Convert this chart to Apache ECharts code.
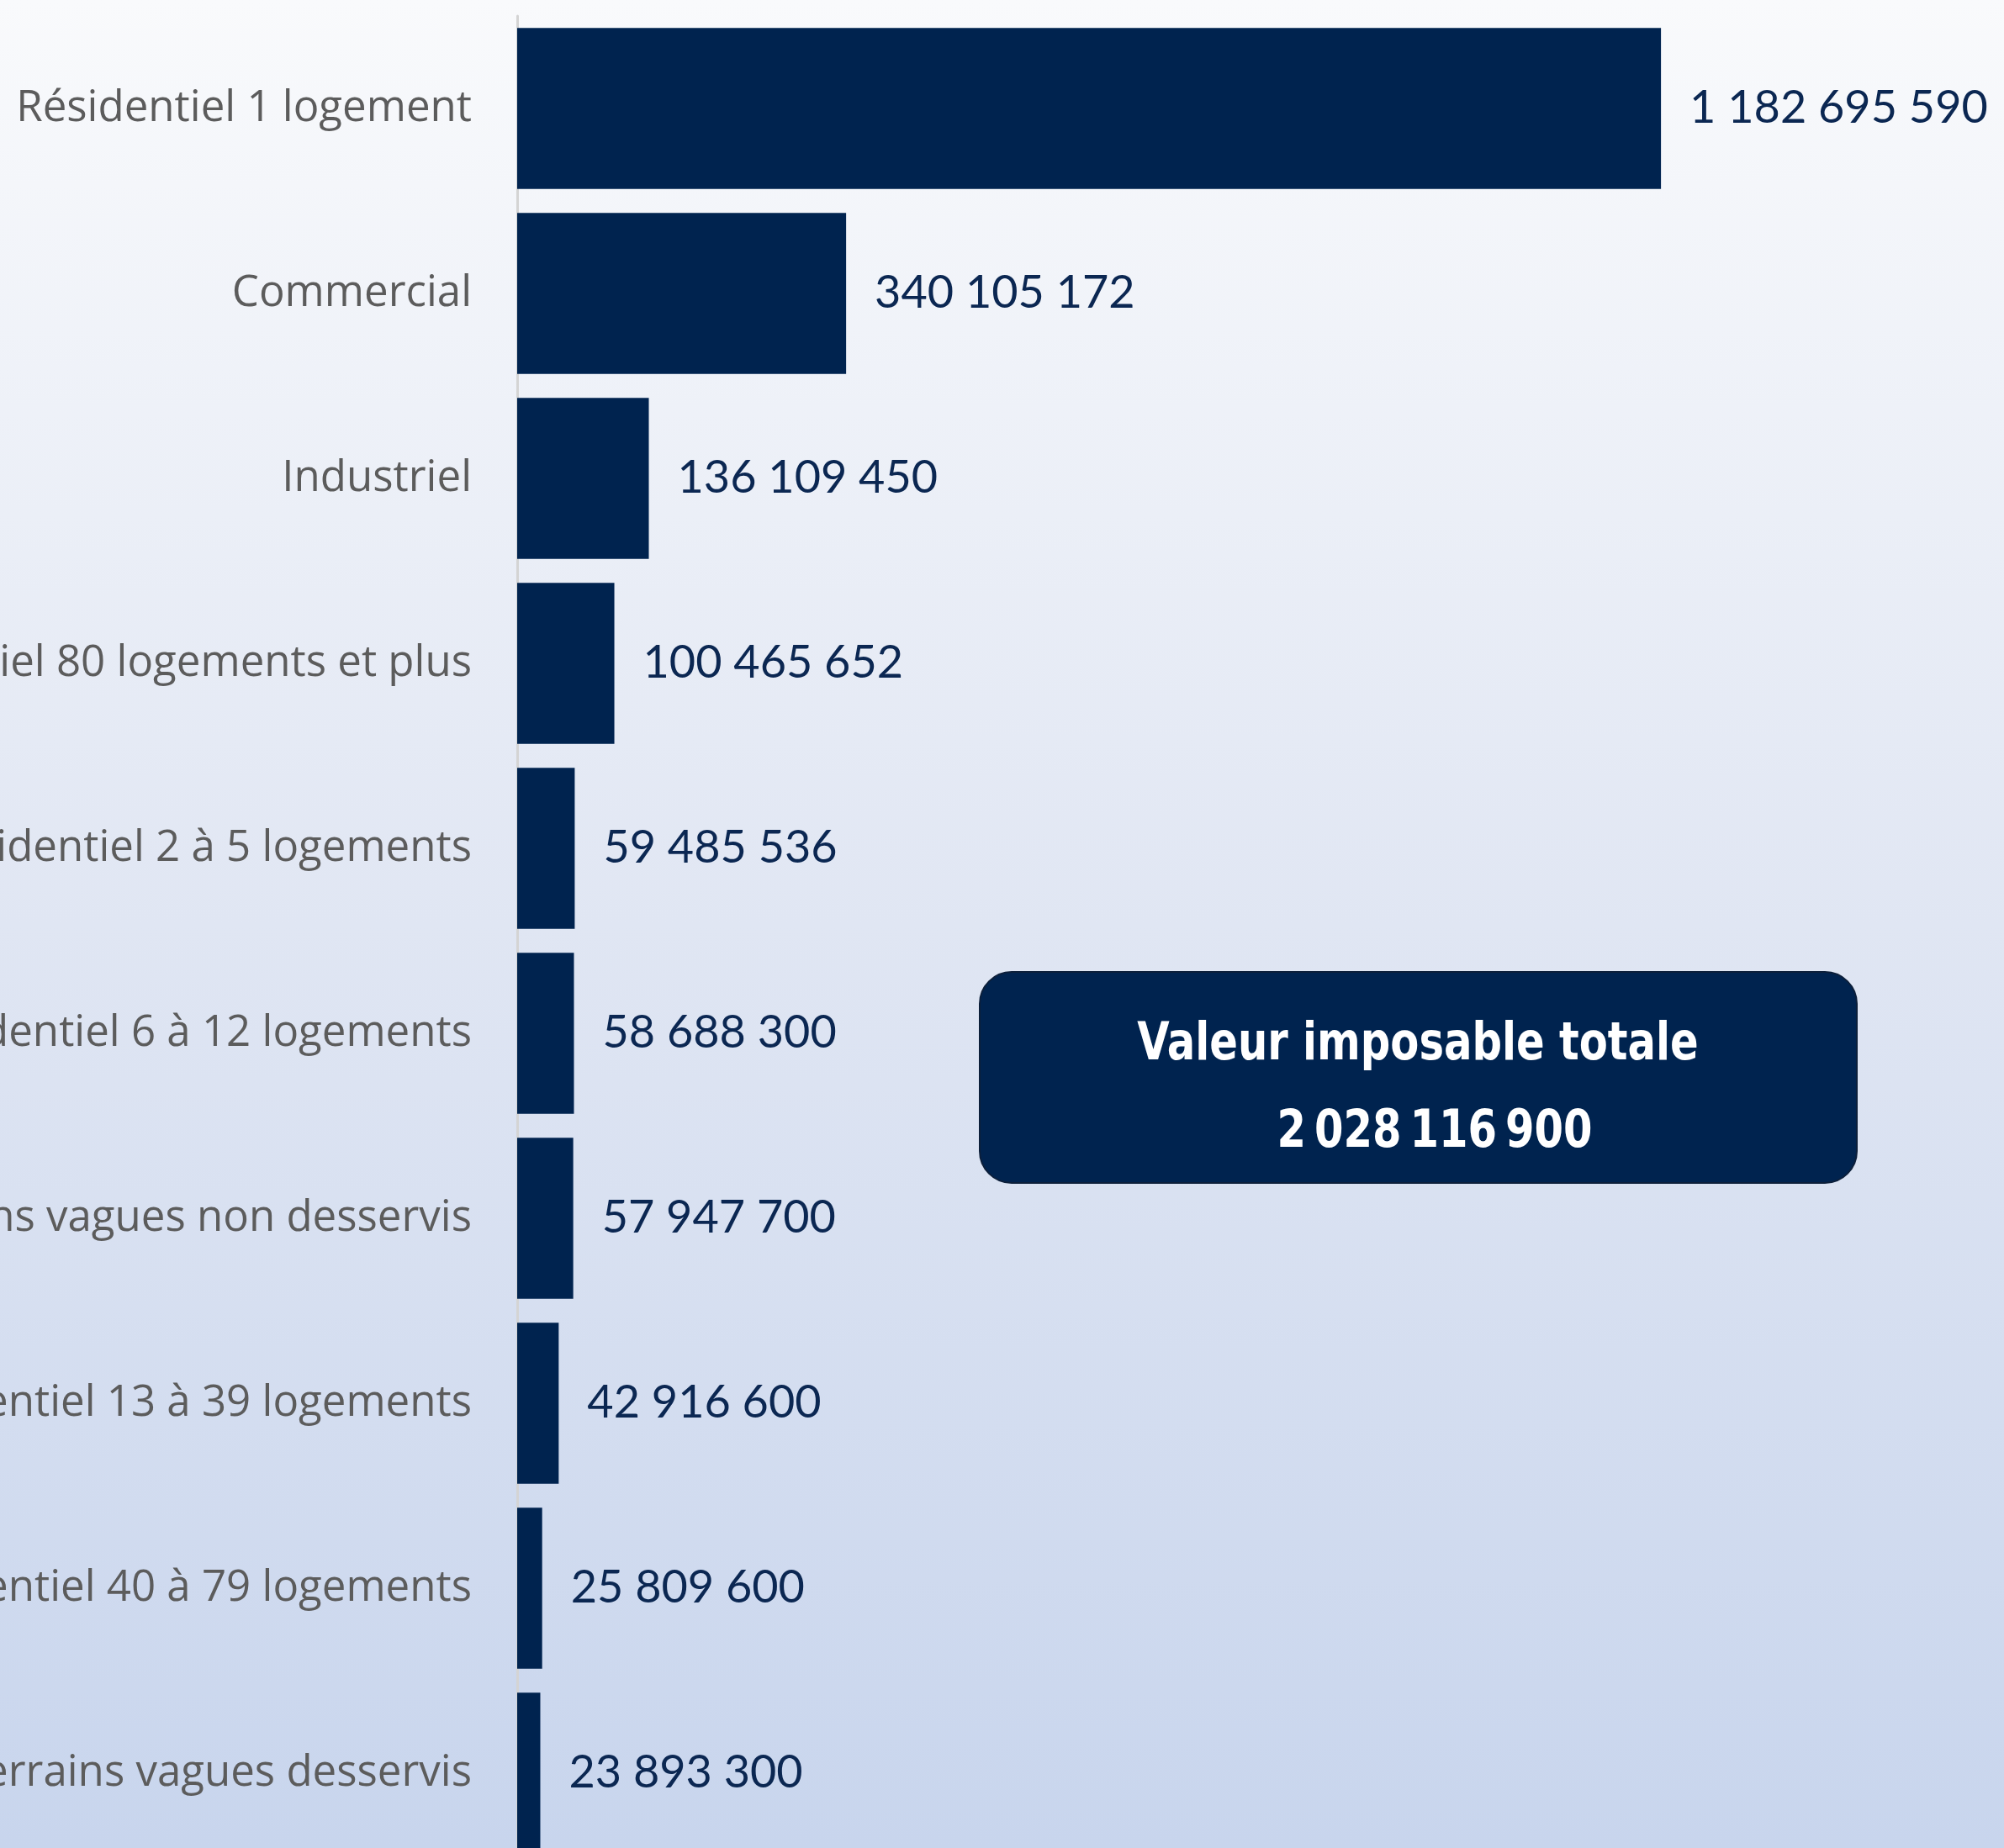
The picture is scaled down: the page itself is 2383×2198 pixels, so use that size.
<!DOCTYPE html>
<html>
<head>
<meta charset="utf-8">
<script src="https://cdn.jsdelivr.net/npm/echarts@6/dist/echarts.min.js"></script>
<style>
  html, body { margin: 0; padding: 0; }
  #chart { width: 2383px; height: 2198px; }
</style>
</head>
<body>
<div id="chart"></div>
<script>
const categories = [
  'Résidentiel 1 logement',
  'Commercial',
  'Industriel',
  'Résidentiel 80 logements et plus',
  'Résidentiel 2 à 5 logements',
  'Résidentiel 6 à 12 logements',
  'Terrains vagues non desservis',
  'Résidentiel 13 à 39 logements',
  'Résidentiel 40 à 79 logements',
  'Terrains vagues desservis'
];
const values = [
  1182695590, 340105172, 136109450, 100465652, 59485536,
  58688300, 57947700, 42916600, 25809600, 23893300
];
const totalTitle = 'Valeur imposable totale';

const fmt = (v, sep = ' ') => String(v).replace(/\B(?=(\d{3})+(?!\d))/g, sep);
const total = values.reduce((a, b) => a + b, 0);

const navy = '#00234f';
const boxFont = 'bold 62px "Liberation Sans Narrow", "DejaVu Sans Condensed", sans-serif';
const chart = echarts.init(document.getElementById('chart'));

const option = {
  backgroundColor: new echarts.graphic.LinearGradient(0, 0, 0, 1, [
    { offset: 0, color: '#f9fafc' },
    { offset: 0.5, color: '#e0e6f3' },
    { offset: 1, color: '#c8d5ed' }
  ]),
  animation: false,
  grid: {
    left: 615,
    top: 19,
    width: 1725,
    height: 2200,
    containLabel: false,
    outerBoundsMode: 'none'
  },
  xAxis: {
    type: 'value',
    min: 0,
    max: 1500000000,
    show: false
  },
  yAxis: {
    type: 'category',
    data: categories,
    inverse: true,
    axisLine: { show: true, lineStyle: { color: '#d4d4d4', width: 3 } },
    axisTick: { show: false },
    axisLabel: {
      color: '#5c5c5c',
      fontSize: 51,
      fontFamily: 'Open Sans',
      margin: 54
    }
  },
  series: [
    {
      type: 'bar',
      data: values,
      barCategoryGap: '13%',
      itemStyle: { color: navy },
      label: {
        show: true,
        position: 'right',
        distance: 34,
        color: '#0b2752',
        fontSize: 54,
        fontFamily: 'Lato',
        formatter: (p) => fmt(p.value)
      }
    }
  ],
  graphic: [
    {
      type: 'group',
      left: 1164,
      top: 1155,
      children: [
        {
          type: 'rect',
          shape: { x: 0, y: 0, width: 1043, height: 251, r: 38 },
          style: { fill: navy, stroke: '#0c1f3a', lineWidth: 2 }
        },
        {
          type: 'text',
          x: 521,
          y: 88,
          scaleX: 0.89,
          style: {
            text: totalTitle,
            fill: '#ffffff',
            font: boxFont,
            align: 'center',
            verticalAlign: 'middle'
          }
        },
        {
          type: 'text',
          x: 541,
          y: 192,
          scaleX: 0.89,
          style: {
            text: fmt(total, '\u2009'),
            fill: '#ffffff',
            font: boxFont,
            align: 'center',
            verticalAlign: 'middle'
          }
        }
      ]
    }
  ]
};

chart.setOption(option);
window.addEventListener('resize', () => chart.resize());
</script>
</body>
</html>
